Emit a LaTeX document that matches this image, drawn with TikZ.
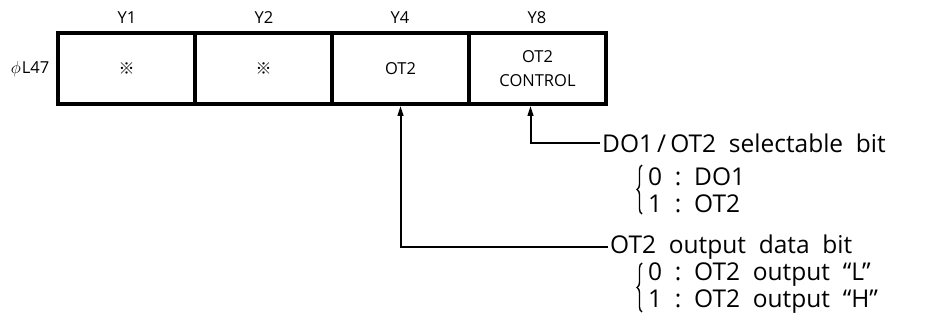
\documentclass[tikz,border=0pt]{standalone}
\usepackage{fontspec}
\setmainfont{Open Sans}
\newfontfamily\cjkfont{Noto Sans CJK JP}
\usetikzlibrary{arrows.meta,decorations.pathreplacing,calc}
\tikzset{
  cell/.style={draw, line width=3.5pt, minimum width=137pt, minimum height=71pt, inner sep=0pt, font=\fontsize{16.5}{18}\selectfont, align=center},
  toplab/.style={font=\fontsize{16.5}{18}\selectfont, inner sep=0pt},
  desc/.style={font=\fontsize{24.5}{27}\selectfont, anchor=west, inner sep=2pt},
  sub/.style={font=\fontsize{24.5}{27}\selectfont, anchor=west, inner sep=0pt},
  conn/.style={line width=2pt, -{Triangle[length=10pt,width=5.5pt]}},
  brc/.style={line width=1.4pt, decorate, decoration={brace, amplitude=5pt, mirror}},
}
\begin{document}
\begin{tikzpicture}[x=1pt,y=-1pt]
\useasboundingbox (0,0) rectangle (929,324);
% cells
\node[cell] (c1) at (126.5,68.5) {\cjkfont\fontsize{16}{17}\selectfont ※};
\node[cell] (c2) at (263.5,68.5) {\cjkfont\fontsize{16}{17}\selectfont ※};
\node[cell] (c3) at (400.5,68.5) {OT2};
\node[cell] (c4) at (537.5,68.5) {OT2\\[6pt]CONTROL};
% top labels
\node[toplab] (y1) at (127,18) {Y1};
\node[toplab] (y2) at (264,18) {Y2};
\node[toplab] (y4) at (400,18) {Y4};
\node[toplab] (y8) at (537,18) {Y8};
\node[toplab] (reg) at (30,69) {$\phi$\kern1pt L47};
% descriptions
\node[desc] (d1) at (600,143) {DO1\,/\,OT2\ \ selectable\ \ bit};
\node[sub] (d1a) at (648,177) {0\ \ :\ \ DO1};
\node[sub] (d1b) at (648,204) {1\ \ :\ \ OT2};
\node[desc] (d2) at (608,247) {OT2\ \ output\ \ data\ \ bit};
\node[sub] (d2a) at (648,275) {0\ \ :\ \ OT2\ \ output\ \ “L”};
\node[sub] (d2b) at (648,302) {1\ \ :\ \ OT2\ \ output\ \ “H”};
% braces
\draw[brc] (642,165) -- (642,214);
\draw[brc] (642,263) -- (642,312);
% connectors
\draw[conn] (d1.west) -| ([xshift=-7pt]c4.south);
\draw[conn] (d2.west) -| (c3.south);
\end{tikzpicture}
\end{document}
